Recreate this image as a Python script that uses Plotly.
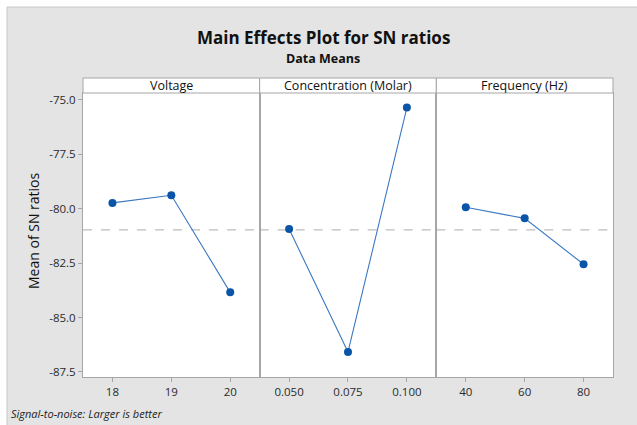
import plotly.graph_objects as go
from plotly.subplots import make_subplots

factors = ["Voltage", "Concentration (Molar)", "Frequency (Hz)"]
levels = [["18", "19", "20"], ["0.050", "0.075", "0.100"], ["40", "60", "80"]]
sn_means = [
    [-79.73, -79.38, -83.84],
    [-80.93, -86.58, -75.35],
    [-79.93, -80.44, -82.55],
]
y_ticks = [-75.0, -77.5, -80.0, -82.5, -85.0, -87.5]
y_tick_text = ["-75.0", "-77.5", "-80.0", "-82.5", "-85.0", "-87.5"]

all_vals = [v for s in sn_means for v in s]
grand_mean = sum(all_vals) / len(all_vals)

W, H = 637, 425
L, R, T, B = 83, 24, 93, 48
pw = W - L - R
ph = H - T - B

fig = make_subplots(rows=1, cols=3, shared_yaxes=True, horizontal_spacing=0)

font_family = "Open Sans, Noto Sans, sans-serif"
line_grey = "#a6a6a6"

for i in range(3):
    fig.add_trace(
        go.Scatter(
            x=levels[i], y=sn_means[i], mode="lines+markers",
            line=dict(color="#3a78c2", width=1.1),
            marker=dict(color="#0a55a8", size=8, symbol="circle"),
            showlegend=False, hoverinfo="x+y",
        ),
        row=1, col=i + 1,
    )

doms = [[0, 1 / 3], [1 / 3, 2 / 3], [2 / 3, 1]]
for i in range(3):
    key = "xaxis" if i == 0 else "xaxis%d" % (i + 1)
    fig.layout[key].update(
        domain=doms[i], type="category", range=[-0.5, 2.5],
        categoryorder="array", categoryarray=levels[i],
        showgrid=False, zeroline=False,
        showline=True, mirror=True, linecolor=line_grey, linewidth=1,
        ticks="outside", ticklen=4, tickcolor=line_grey,
        tickfont=dict(size=11.5, color="#2a2a2a", family=font_family),
    )

fig.update_yaxes(
    range=[-87.73, -74.68], tickvals=y_ticks, ticktext=y_tick_text,
    showgrid=False, zeroline=False,
    showline=True, mirror=True, linecolor=line_grey, linewidth=1,
    ticks="outside", ticklen=4, tickcolor=line_grey,
    tickfont=dict(size=11.5, color="#2a2a2a", family=font_family),
)
fig.update_yaxes(ticks="", showticklabels=False, row=1, col=2)
fig.update_yaxes(ticks="", showticklabels=False, row=1, col=3)

def px_x(x):
    return (x - L) / pw

def px_y(y):
    return (H - B - y) / ph

shapes = []
shapes.append(dict(type="rect", xref="paper", yref="paper",
                   x0=px_x(7), x1=px_x(W + 5), y0=px_y(H + 5), y1=px_y(7),
                   fillcolor="#e4e4e4", line=dict(color="#c8c8c8", width=1),
                   layer="below"))
for i in range(3):
    xr = "x" if i == 0 else "x%d" % (i + 1)
    shapes.append(dict(type="rect", xref="paper", yref="paper",
                       x0=doms[i][0], x1=doms[i][1], y0=0, y1=1,
                       fillcolor="white", line=dict(width=0), layer="below"))
    shapes.append(dict(type="rect", xref="paper", yref="paper",
                       x0=doms[i][0], x1=doms[i][1], y0=1, y1=1 + 15 / ph,
                       fillcolor="white", line=dict(color=line_grey, width=1),
                       layer="above"))
    shapes.append(dict(type="line", xref=xr + " domain", yref="y",
                       x0=0, x1=1, y0=grand_mean, y1=grand_mean,
                       line=dict(color="#bdbdbd", width=1.3, dash="dash"),
                       layer="below"))

annotations = []
for i in range(3):
    annotations.append(dict(text=factors[i], xref="paper", yref="paper",
                            x=(doms[i][0] + doms[i][1]) / 2, y=1 + 7.5 / ph,
                            xanchor="center", yanchor="middle", showarrow=False,
                            font=dict(size=12.5, color="#111111", family=font_family)))
annotations.append(dict(text="<b>Main Effects Plot for SN ratios</b>", xref="paper", yref="paper",
                        x=px_x(323), y=px_y(37), xanchor="center", yanchor="middle",
                        showarrow=False, font=dict(size=17, color="#111111", family=font_family)))
annotations.append(dict(text="<b>Data Means</b>", xref="paper", yref="paper",
                        x=px_x(323), y=px_y(58), xanchor="center", yanchor="middle",
                        showarrow=False, font=dict(size=12.5, color="#111111", family=font_family)))
annotations.append(dict(text="Mean of SN ratios", xref="paper", yref="paper",
                        x=px_x(33), y=px_y(230), xanchor="center", yanchor="middle",
                        textangle=-90, showarrow=False,
                        font=dict(size=14, color="#111111", family=font_family)))
annotations.append(dict(text="<i>Signal-to-noise: Larger is better</i>", xref="paper", yref="paper",
                        x=px_x(9), y=px_y(413), xanchor="left", yanchor="middle",
                        showarrow=False, font=dict(size=11, color="#222222", family=font_family)))

fig.update_layout(
    width=W, height=H,
    margin=dict(l=L, r=R, t=T, b=B),
    paper_bgcolor="white", plot_bgcolor="rgba(0,0,0,0)",
    shapes=shapes, annotations=annotations,
    font=dict(family=font_family),
)

fig.write_html("out.html", config={"displayModeBar": False},
               post_script="document.body.style.margin='0px';document.body.style.overflow='hidden';")
